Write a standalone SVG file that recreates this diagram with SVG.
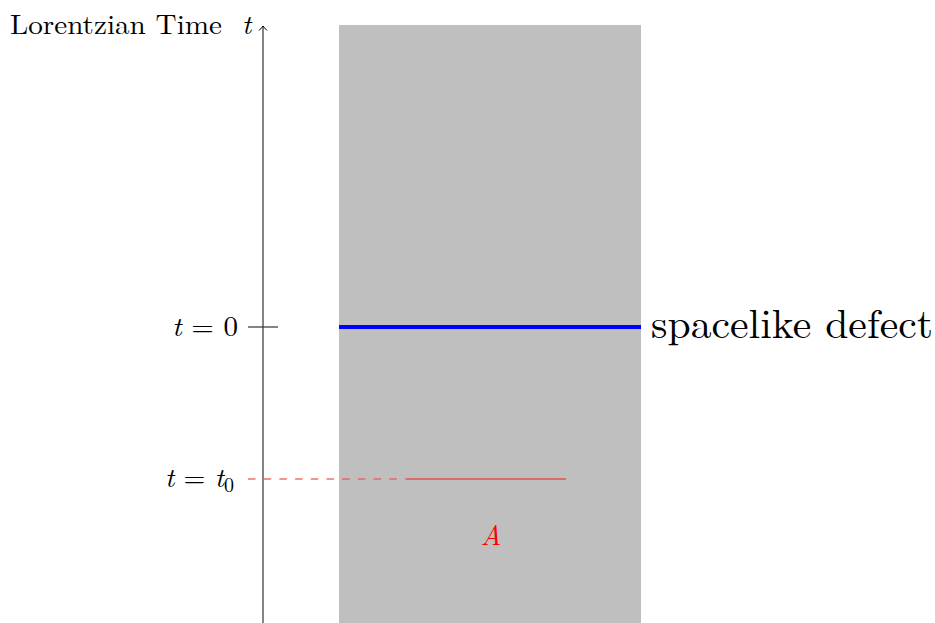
<svg xmlns="http://www.w3.org/2000/svg" width="935" height="623" viewBox="0 0 935 623">
<defs>
<style>
.tx{font-family:"Latin Modern Roman","Liberation Serif",serif;fill:#000}
.it{font-style:italic}
</style>
<marker id="arr" viewBox="-6 -6 8 12" refX="0" refY="0" markerWidth="8" markerHeight="12" markerUnits="userSpaceOnUse" orient="auto">
<path d="M-4.5,-4 Q-1.5,-1 0,0 Q-1.5,1 -4.5,4" fill="none" stroke="#000" stroke-width="1"/>
</marker>
</defs>
<rect width="935" height="623" fill="#fff"/>
<g id="region"><rect x="339" y="25" width="302" height="598" fill="#bfbfbf"/></g>
<g id="connectors">
<line x1="263" y1="623" x2="263" y2="26" stroke="#333" stroke-width="1.2" marker-end="url(#arr)"/>
<line x1="248" y1="327" x2="278" y2="327" stroke="#333" stroke-width="1.2"/>
<line x1="248" y1="479" x2="407" y2="479" stroke="#ee5555" stroke-opacity="0.85" stroke-width="1.5" stroke-dasharray="7.5 8.2"/>
<line x1="407" y1="479" x2="566" y2="479" stroke="#e05050" stroke-width="1.5"/>
<line x1="339" y1="327" x2="641" y2="327" stroke="#0000ff" stroke-width="4"/>
</g>
<g id="axis-label"><text class="tx" x="10" y="34" font-size="28" textLength="212" lengthAdjust="spacingAndGlyphs">Lorentzian Time</text><text class="tx it" x="242" y="34" font-size="28">t</text></g>
<g id="t0-label"><text class="tx" x="172" y="336" font-size="28" textLength="66" lengthAdjust="spacingAndGlyphs"><tspan class="it">t</tspan> = 0</text></g>
<g id="tt0-label"><text class="tx" x="165" y="487" font-size="28"><tspan class="it">t</tspan> = <tspan class="it">t</tspan><tspan font-size="20" dy="5">0</tspan></text></g>
<g id="defect-label"><text class="tx" x="651" y="338" font-size="41" textLength="282" lengthAdjust="spacingAndGlyphs">spacelike defect</text></g>
<g id="A-label"><text class="tx it" x="491" y="545" font-size="28" style="fill:#ff0000" text-anchor="middle">A</text></g>
</svg>
